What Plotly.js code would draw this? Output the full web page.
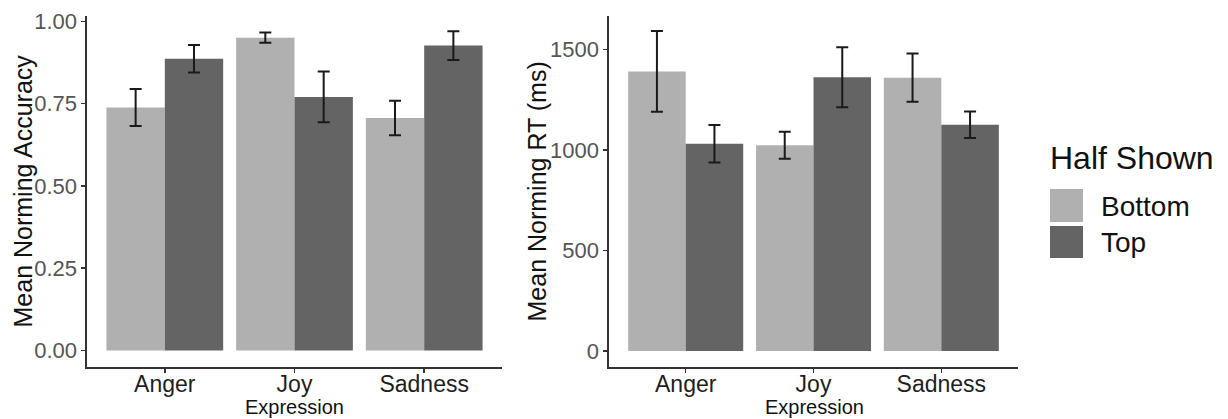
<!DOCTYPE html>
<html>
<head>
<meta charset="utf-8">
<script src="https://cdn.plot.ly/plotly-3.0.1.min.js"></script>
<style>html,body{margin:0;padding:0;background:#fff;}#chart{width:1228px;height:419px;}</style>
</head>
<body>
<div id="chart"></div>
<script>
// ---- data ----
const expressions = ["Anger", "Joy", "Sadness"];
const halves = ["Bottom", "Top"];
const accBottom = [0.738, 0.950, 0.706];
const accBottomSE = [0.056, 0.0155, 0.0525];
const accTop = [0.886, 0.770, 0.926];
const accTopSE = [0.042, 0.077, 0.0435];
const rtBottom = [1392, 1024, 1361];
const rtBottomSE = [201, 67, 120];
const rtTop = [1032, 1363, 1127];
const rtTopSE = [93, 149, 66];
const accTicks = [0, 0.25, 0.5, 0.75, 1.0];
const accTickText = ["0.00", "0.25", "0.50", "0.75", "1.00"];
const rtTicks = [0, 500, 1000, 1500];
const rtTickText = ["0", "500", "1000", "1500"];

const colBottom = "#B0B0B0";
const colTop = "#646464";
const FONT = "Liberation Sans, Arial, Helvetica, sans-serif";
const W = 1228, H = 419;
const px = v => v / W;
const py = v => 1 - v / H;

function barTrace(y, se, name, color, xa, ya) {
  return {
    type: "bar", x: expressions, y: y, name: name, xaxis: xa, yaxis: ya,
    marker: {color: color, line: {width: 0}}, showlegend: false,
    error_y: {type: "data", array: se, visible: true, color: "#1a1a1a", thickness: 2, width: 6},
    hoverinfo: "skip"
  };
}

const data = [
  barTrace(accBottom, accBottomSE, halves[0], colBottom, "x", "y"),
  barTrace(accTop, accTopSE, halves[1], colTop, "x", "y"),
  barTrace(rtBottom, rtBottomSE, halves[0], colBottom, "x2", "y2"),
  barTrace(rtTop, rtTopSE, halves[1], colTop, "x2", "y2")
];

const yDom = [py(367), py(16)];
const axCommon = {
  showline: true, linecolor: "#333", linewidth: 1.6, ticks: "outside", ticklen: 4,
  tickcolor: "#333", tickwidth: 1.4, showgrid: false, zeroline: false, fixedrange: true, automargin: false
};
const xTickFont = {size: 23, color: "#1e1e1e", family: FONT};
const yTickFont = {size: 22, color: "#555", family: FONT};

const layout = {
  width: W, height: H,
  margin: {l: 0, r: 0, t: 0, b: 0},
  paper_bgcolor: "#fff", plot_bgcolor: "#fff",
  barmode: "group", bargap: 0.1, bargroupgap: 0,
  showlegend: false,
  font: {family: FONT},
  xaxis: Object.assign({}, axCommon, {domain: [px(87), px(502)], range: [-0.6, 2.6], anchor: "y",
    tickfont: xTickFont, ticklabelstandoff: -8}),
  yaxis: Object.assign({}, axCommon, {domain: yDom, range: [-0.0505, 1.016], anchor: "x",
    tickvals: accTicks, ticktext: accTickText, tickfont: yTickFont}),
  xaxis2: Object.assign({}, axCommon, {domain: [px(609), px(1018)], range: [-0.6, 2.6], anchor: "y2",
    tickfont: xTickFont, ticklabelstandoff: -8}),
  yaxis2: Object.assign({}, axCommon, {domain: yDom, range: [-80, 1668], anchor: "x2",
    tickvals: rtTicks, ticktext: rtTickText, tickfont: yTickFont}),
  shapes: [
    {type: "rect", xref: "paper", yref: "paper", x0: px(1050), x1: px(1083), y0: py(222), y1: py(189),
     fillcolor: colBottom, line: {width: 0}},
    {type: "rect", xref: "paper", yref: "paper", x0: px(1050), x1: px(1083), y0: py(258), y1: py(226),
     fillcolor: colTop, line: {width: 0}}
  ],
  annotations: [
    {text: "Mean Norming Accuracy", xref: "paper", yref: "paper", x: px(22), y: py(191.5), textangle: -90,
     showarrow: false, xanchor: "center", yanchor: "middle", font: {size: 25, color: "#111", family: FONT}},
    {text: "Mean Norming RT (ms)", xref: "paper", yref: "paper", x: px(536), y: py(191.5), textangle: -90,
     showarrow: false, xanchor: "center", yanchor: "middle", font: {size: 25, color: "#111", family: FONT}},
    {text: "Expression", xref: "paper", yref: "paper", x: px(294.5), y: 0, showarrow: false, borderpad: 0,
     xanchor: "center", yanchor: "bottom", font: {size: 20, color: "#111", family: FONT}},
    {text: "Expression", xref: "paper", yref: "paper", x: px(814), y: 0, showarrow: false, borderpad: 0,
     xanchor: "center", yanchor: "bottom", font: {size: 20, color: "#111", family: FONT}},
    {text: "Half Shown", xref: "paper", yref: "paper", x: px(1048), y: py(158), showarrow: false,
     xanchor: "left", yanchor: "middle", font: {size: 32, color: "#111", family: FONT}},
    {text: halves[0], xref: "paper", yref: "paper", x: px(1099), y: py(206), showarrow: false,
     xanchor: "left", yanchor: "middle", font: {size: 28, color: "#111", family: FONT}},
    {text: halves[1], xref: "paper", yref: "paper", x: px(1099), y: py(242), showarrow: false,
     xanchor: "left", yanchor: "middle", font: {size: 28, color: "#111", family: FONT}}
  ]
};

Plotly.newPlot("chart", data, layout, {displayModeBar: false, staticPlot: true});
</script>
</body>
</html>
